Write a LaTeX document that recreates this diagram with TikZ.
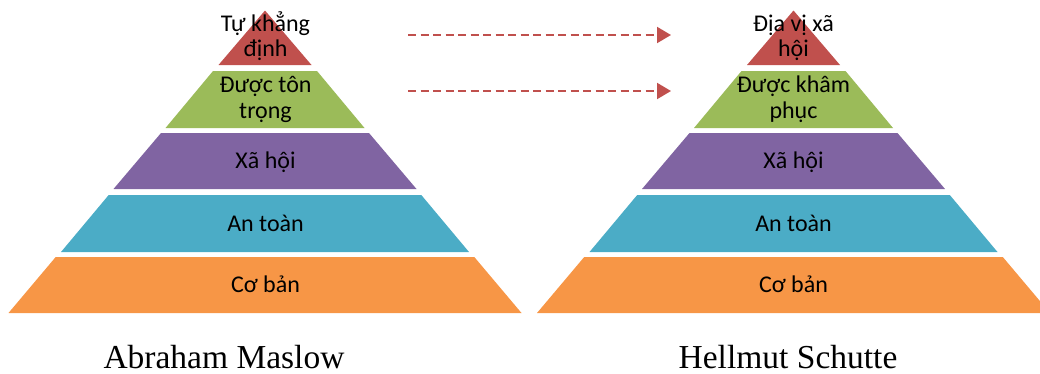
\documentclass[tikz,border=0pt]{standalone}
\usepackage{fontspec}
\setmainfont{Carlito}
\newfontfamily\authorfont{Liberation Serif}
\usetikzlibrary{arrows.meta}

\definecolor{lvred}{HTML}{C0504D}
\definecolor{lvgreen}{HTML}{9BBB59}
\definecolor{lvpurple}{HTML}{8064A2}
\definecolor{lvteal}{HTML}{4BACC6}
\definecolor{lvorange}{HTML}{F79646}

\tikzset{
  tier/.style={font=\fontsize{24}{25.5}\selectfont, align=center, inner sep=0pt, anchor=base},
  author/.style={font=\authorfont\fontsize{33.5}{38}\selectfont, inner sep=0pt,
    text depth=0pt, anchor=base},
  link/.style={draw=lvred, line width=2pt, dash pattern=on 8pt off 4.5pt,
    -{Triangle[length=14pt,width=16pt]}},
}

\begin{document}
\begin{tikzpicture}[x=1pt,y=-1pt]
\useasboundingbox (0,0) rectangle (1040,373);
\clip (0,0) rectangle (1040,373);

% two five-tier pyramids, same geometry, different centres
\foreach \cx in {265,793.5}{
  \fill[lvred]    (\cx,10.5) -- (\cx+46.5,65) -- (\cx-46.5,65) -- cycle;
  \fill[lvgreen]  (\cx-52,71)  -- (\cx+52,71)  -- (\cx+99.5,128) -- (\cx-99.5,128) -- cycle;
  \fill[lvpurple] (\cx-104,133) -- (\cx+104,133) -- (\cx+151.5,189) -- (\cx-151.5,189) -- cycle;
  \fill[lvteal]   (\cx-156.3,195) -- (\cx+156.3,195) -- (\cx+204,252) -- (\cx-204,252) -- cycle;
  \fill[lvorange] (\cx-209.3,257) -- (\cx+209.3,257) -- (\cx+256.5,313) -- (\cx-256.5,313) -- cycle;
}

% Maslow
\node[tier] (m5) at (265.5,56.7)  {Tự khẳng\\định};
\node[tier] (m4) at (265.5,118.3) {Được tôn\\trọng};
\node[tier] (m3) at (265.5,168)   {Xã hội};
\node[tier] (m2) at (265.5,231)   {An toàn};
\node[tier] (m1) at (265.5,292.5) {Cơ bản};

% Schutte
\node[tier] (s5) at (793.5,56.7)  {Địa vị xã\\hội};
\node[tier] (s4) at (793.5,118.3) {Được khâm\\phục};
\node[tier] (s3) at (793.5,168)   {Xã hội};
\node[tier] (s2) at (793.5,231)   {An toàn};
\node[tier] (s1) at (793.5,292.5) {Cơ bản};

% correspondence arrows between the upper tiers
\coordinate (a5s) at (408,35);
\coordinate (a5e) at (671,35);
\coordinate (a4s) at (408,91);
\coordinate (a4e) at (671,91);
\draw[link] (a5s) -- (a5e);
\draw[link] (a4s) -- (a4e);

% authors
\node[author] (maslow)  at (224,368.5) {Abraham Maslow};
\node[author] (schutte) at (788,368.5) {Hellmut Schutte};
\end{tikzpicture}
\end{document}
